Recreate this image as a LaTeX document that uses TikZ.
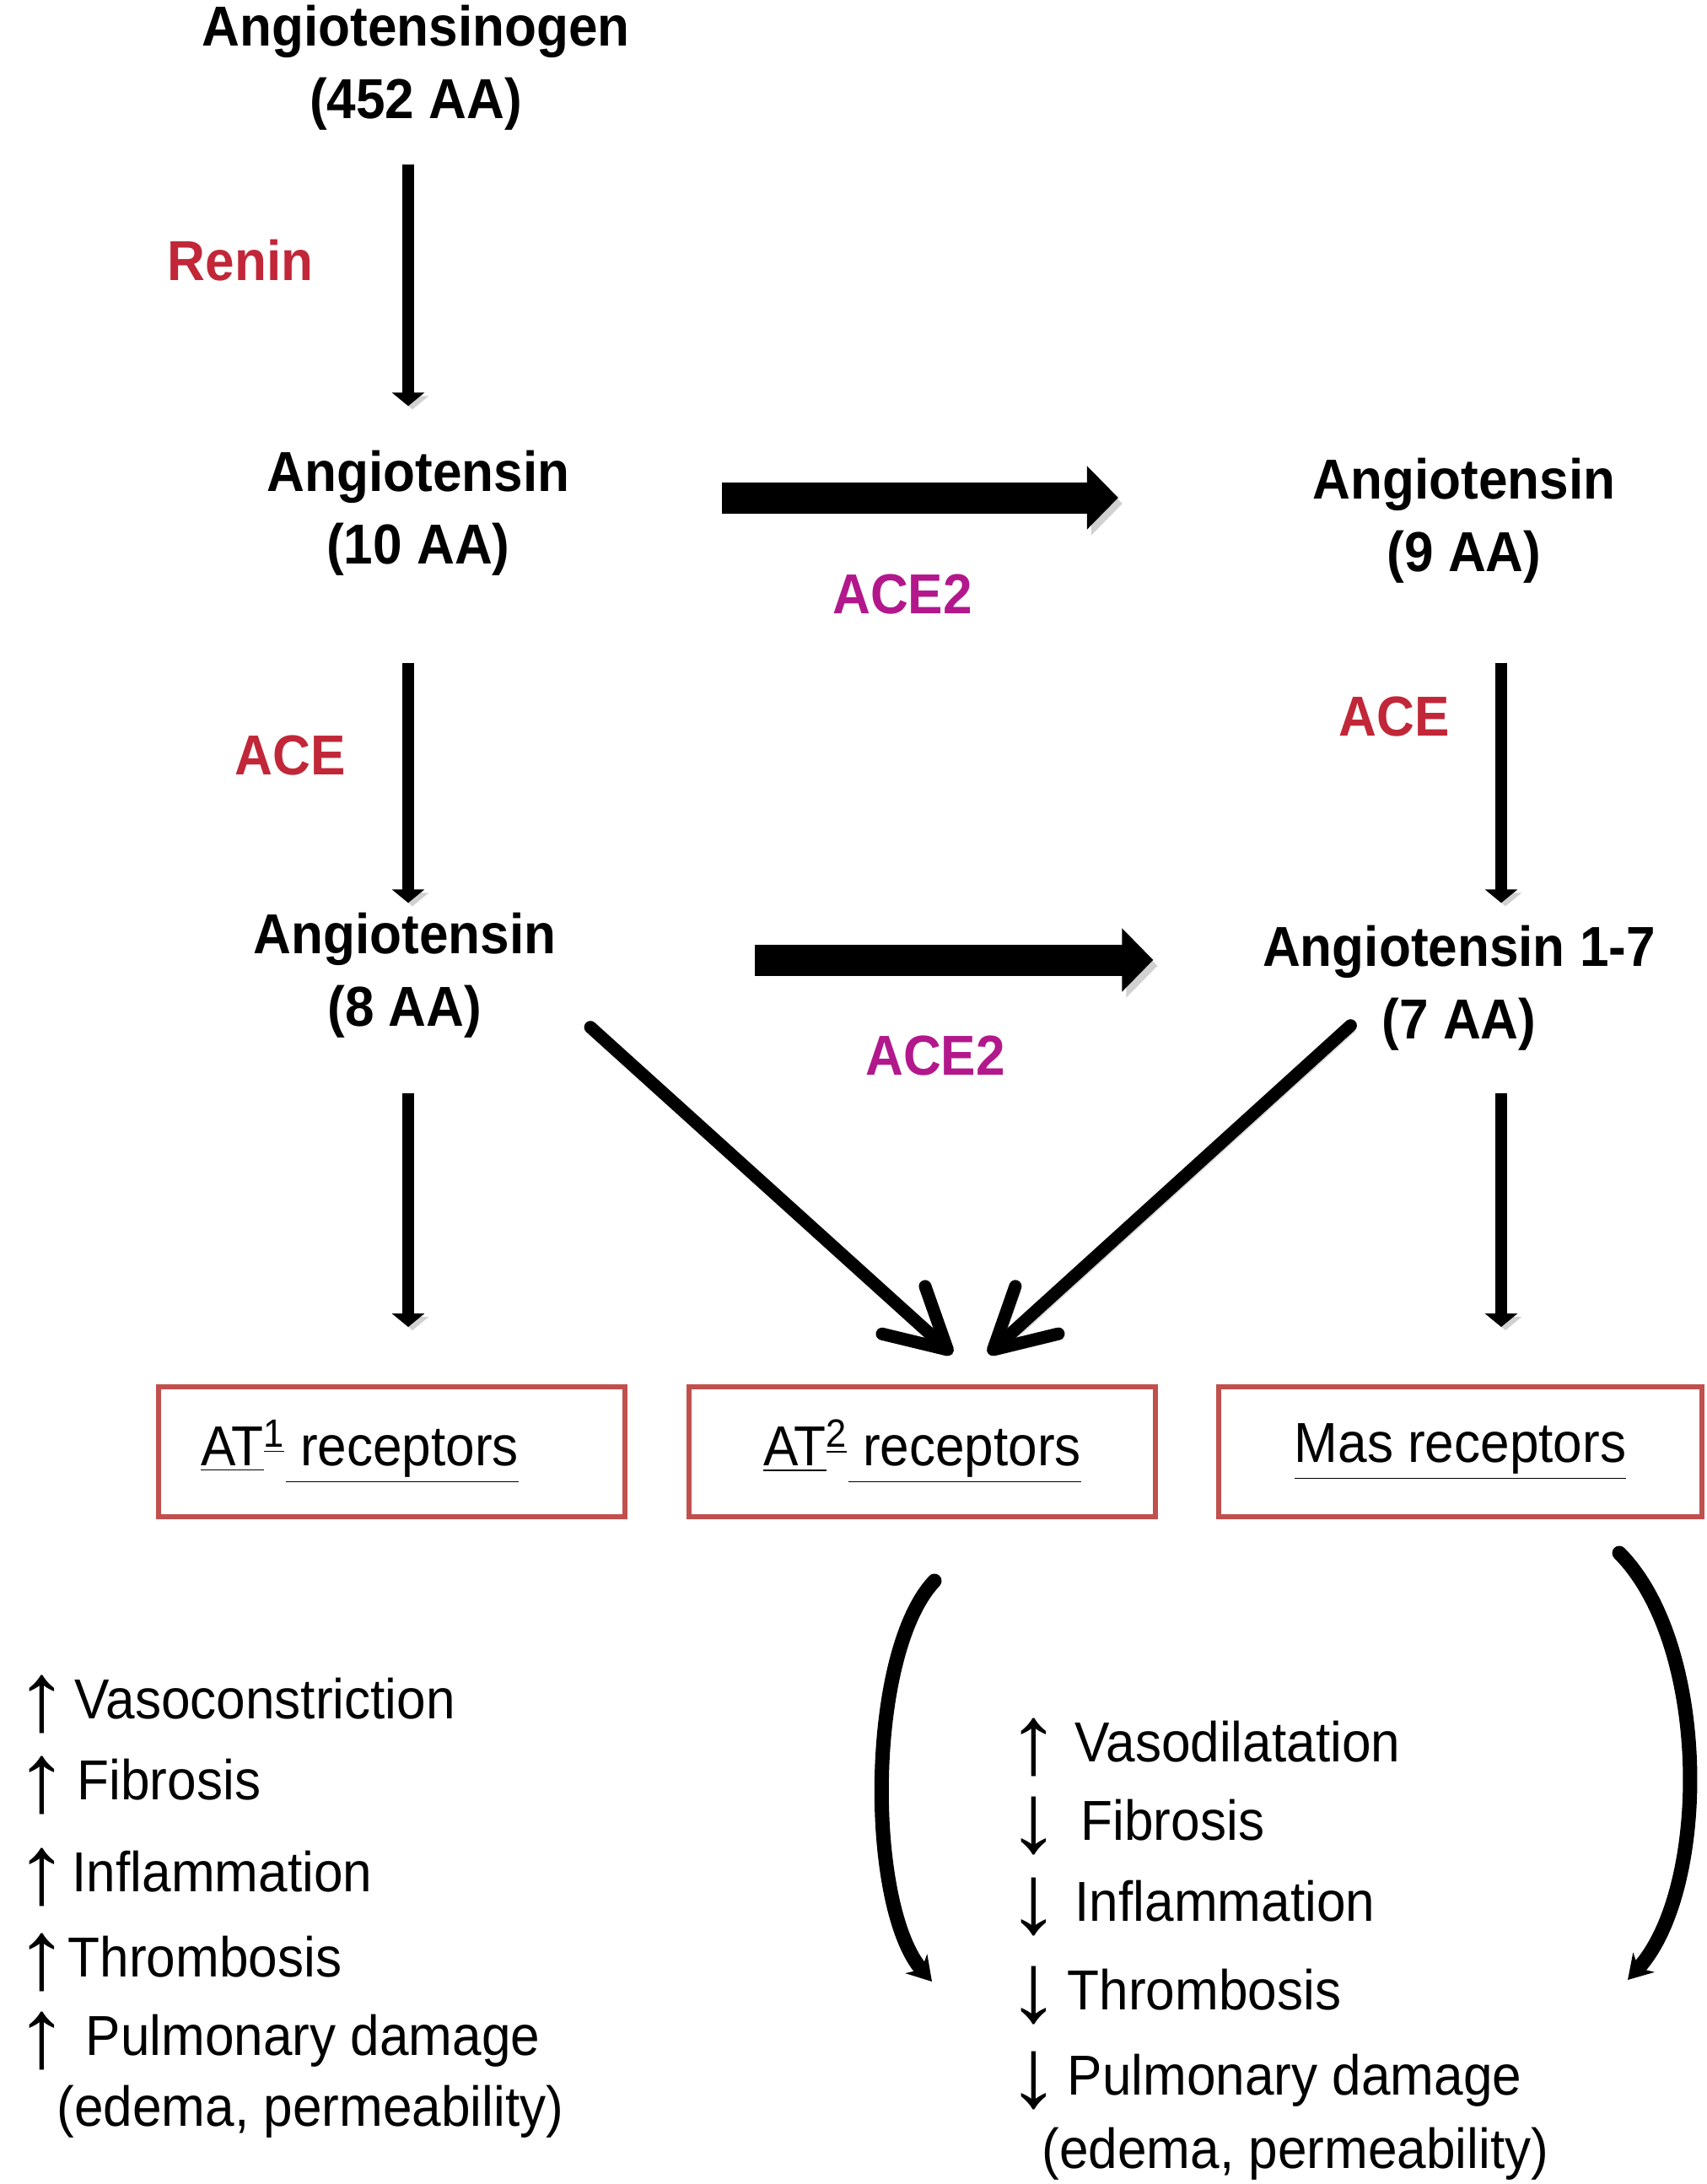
\documentclass[tikz,border=0pt]{standalone}
\usepackage{fontspec}
\setmainfont{Liberation Sans}[FakeStretch=0.93]
\usepackage{tikz}
\usetikzlibrary{arrows.meta, positioning}
\definecolor{enzred}{RGB}{193,39,56}
\definecolor{acemag}{RGB}{178,24,140}
\definecolor{boxred}{RGB}{192,80,77}
\tikzstyle{peptide} = [inner sep=0, 
align=center, 
font=\fontsize{19}{24.4}\selectfont\bfseries]
\tikzstyle{enzyme} = [inner sep=0, 
font=\fontsize{19}{24.4}\selectfont\bfseries, 
text=enzred]
\tikzstyle{ace2} = [enzyme, text=acemag]
\tikzstyle{receptor} = [rectangle, 
minimum width=5.53cm, 
minimum height=1.54cm, 
inner sep=0, 
draw=boxred, line width=0.06cm, 
font=\fontsize{19}{24.4}\selectfont]
\tikzstyle{effect} = [inner sep=0, anchor=base west, 
font=\fontsize{19}{24.4}\selectfont]
\tikzstyle{thinarrow} = [line width=0.14cm, 
-{Triangle[length=0.16cm,width=0.38cm]}, 
preaction={draw=black!18, transform canvas={shift={(0.05,-0.04)}}}]
\tikzstyle{thickarrow} = [line width=0.37cm, 
-{Triangle[length=0.37cm,width=0.73cm]}, 
preaction={draw=black!18, transform canvas={shift={(0.05,-0.07)}}}]
\tikzstyle{barbarrow} = [line width=0.15cm, line cap=round, 
-{Straight Barb[length=0.7cm,width=0.76cm,round]}, 
preaction={draw=black!15, transform canvas={shift={(0.06,-0.06)}}}]
\tikzstyle{bracket} = [line width=0.17cm, line cap=round, 
-{Stealth[length=0.28cm,width=0.34cm]}]
\newcommand{\upar}[1]{\llap{\makebox[#1][l]{\raisebox{-0.14cm}[0.45cm][0.1cm]{\scalebox{1.6}[1.38]{\fontsize{24}{24}\selectfont ↑}}}}}
\newcommand{\dnar}[1]{\llap{\makebox[#1][l]{\raisebox{-0.14cm}[0.45cm][0.1cm]{\scalebox{1.6}[1.38]{\fontsize{24}{24}\selectfont ↓}}}}}

\begin{document}
\begin{tikzpicture}
\useasboundingbox (0,0) rectangle (20.24,-25.89);

% peptides
\node (gen) [peptide] at (4.93,-0.80) {Angiotensinogen\\(452 AA)};
\node (a10) [peptide] at (4.96,-6.08) {Angiotensin\\(10 AA)};
\node (a9) [peptide] at (17.36,-6.17) {Angiotensin\\(9 AA)};
\node (a8) [peptide] at (4.80,-11.56) {Angiotensin\\(8 AA)};
\node (a7) [peptide] at (17.30,-11.71) {Angiotensin 1-7\\(7 AA)};

% enzymes
\node (renin) [enzyme] at (2.85,-3.09) {Renin};
\node (aceL) [enzyme] at (3.44,-8.95) {ACE};
\node (aceR) [enzyme] at (16.53,-8.49) {ACE};
\node (ace2top) [ace2] at (10.70,-7.04) {ACE2};
\node (ace2bot) [ace2] at (11.09,-12.51) {ACE2};

% receptors
\node (at1) [receptor] at (4.645,-17.21) {\underline{AT}\textsuperscript{\underline{1}}\underline{ receptors}\kern0.76cm};
\node (at2) [receptor] at (10.935,-17.21) {\underline{AT}\textsuperscript{\underline{2}}\underline{ receptors}};
\node (mas) [receptor, minimum width=5.73cm] at (17.315,-17.21) {\underline{Mas receptors}};

\draw [thinarrow, shorten <=0.40cm, shorten >=0.52cm] ([xshift=-0.09cm]gen.south) -- ([xshift=-0.09cm]gen.south |- a10.north);
\draw [thinarrow, shorten <=1.03cm, shorten >=0.11cm] ([xshift=-0.12cm]a10.south) -- ([xshift=-0.12cm]a10.south |- a8.north);
\draw [thinarrow, shorten <=0.94cm, shorten >=0.26cm] ([xshift=0.44cm]a9.south) -- ([xshift=0.44cm]a9.south |- a7.north);
\draw [thinarrow, shorten <=0.65cm, shorten >=0.68cm] ([xshift=0.04cm]a8.south) -- ([xshift=0.04cm]a8.south |- at1.north);
\draw [thinarrow, shorten <=0.50cm, shorten >=0.68cm] ([xshift=0.50cm]a7.south) -- ([xshift=0.50cm]a7.south |- mas.north);

\draw [thickarrow, shorten <=1.80cm, shorten >=2.30cm] ([yshift=0.18cm]a10.east) -- ([yshift=0.18cm]a10.east -| a9.west);
\draw [thickarrow, shorten <=2.35cm, shorten >=1.29cm] ([yshift=0.18cm]a8.east) -- ([yshift=0.18cm]a8.east -| a7.west);

\draw [barbarrow] ([shift={(0.40,0.13)}]a8.south east) -- ([shift={(0.355,0.36)}]at2.north);
\draw [barbarrow] ([shift={(1.05,0.30)}]a7.south west) -- ([shift={(0.785,0.36)}]at2.north);

% effects
\node (vcon) [effect] at (0.88,-20.37) {\upar{0.70cm}Vasoconstriction};
\node (fibU) [effect] at (0.91,-21.33) {\upar{0.73cm}Fibrosis};
\node (inflU) [effect] at (0.85,-22.42) {\upar{0.67cm}Inflammation};
\node (thrU) [effect] at (0.80,-23.43) {\upar{0.62cm}Thrombosis};
\node (pulU) [effect] at (1.01,-24.36) {\upar{0.83cm}Pulmonary damage};
\node (edU) [effect] at (0.67,-25.20) {(edema, permeability)};

\node (vdil) [effect] at (12.74,-20.88) {\upar{0.80cm}Vasodilatation};
\node (fibD) [effect] at (12.81,-21.81) {\dnar{0.87cm}Fibrosis};
\node (inflD) [effect] at (12.74,-22.77) {\dnar{0.80cm}Inflammation};
\node (thrD) [effect] at (12.65,-23.82) {\dnar{0.71cm}Thrombosis};
\node (pulD) [effect] at (12.65,-24.83) {\dnar{0.71cm}Pulmonary damage};
\node (edD) [effect] at (12.35,-25.70) {(edema, permeability)};

\draw [bracket] (11.08,-18.74) .. controls (10.27,-19.6) and (10.27,-22.6) .. (11.05,-23.49);
\draw [bracket] (19.20,-18.41) .. controls (20.28,-19.5) and (20.28,-22.4) .. (19.30,-23.47);

\end{tikzpicture}
\end{document}
